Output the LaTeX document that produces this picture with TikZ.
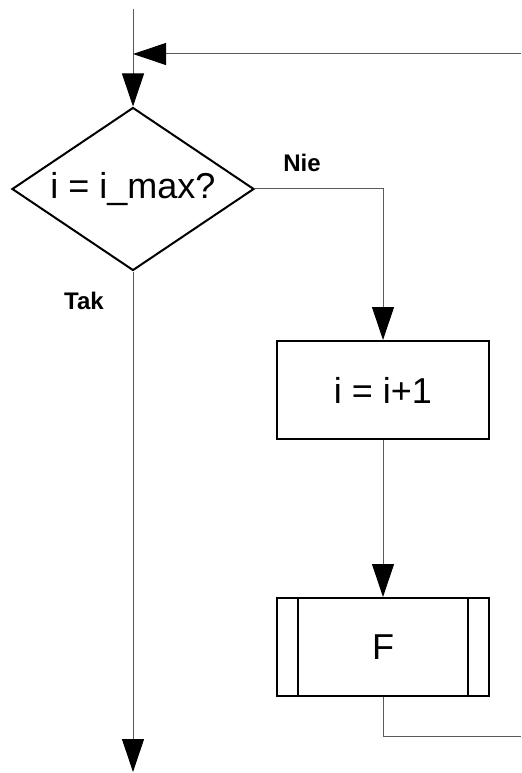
\documentclass[tikz,border=0pt]{standalone}
\usepackage{fontspec}
\setmainfont{Liberation Sans}
\usepackage{tikz}
\usetikzlibrary{arrows.meta,calc,positioning,shapes.geometric}
\tikzset{%
	decision/.style = {draw, line width=1.5pt, diamond, aspect=1.485, minimum width=181.5pt, minimum height=122.25pt, inner sep=0pt, text centered, font=\fontsize{27}{30}\selectfont},
	process/.style  = {draw, line width=1.5pt, rectangle, minimum width=159pt, minimum height=73.5pt, inner sep=0pt, text centered, font=\fontsize{27}{30}\selectfont},
	answer/.style   = {font=\fontsize{18}{20}\selectfont\bfseries, inner sep=0pt},
	line/.style     = {line width=0.75pt, draw=black!65},
	arrow/.style    = {line, -{Triangle[length=24.75pt,width=16.5pt,color=black]}},
}

\begin{document}
\begin{tikzpicture}[x=0.75pt,y=-0.75pt]
	\useasboundingbox (0,0) rectangle (521,773);

	\coordinate (start) at (133,9);   % flow in from above
	\coordinate (back) at (521,54);   % loop comes back here
	\coordinate (loop) at (521,736);  % loop leaves here
	\coordinate (exit) at (133,772);

	\node[decision] (test) at (133,189) {i = i\_max?};
	\node[process] (inc) at (383,390) {i = i+1};
	\node[process] (fun) at (383,647) {F};
	\draw[line width=1.5pt] ([xshift=16.5pt]fun.north west) -- ([xshift=16.5pt]fun.south west);
	\draw[line width=1.5pt] ([xshift=-16.5pt]fun.north east) -- ([xshift=-16.5pt]fun.south east);

	\node[answer] at (302,163) {Nie};
	\node[answer] at (84,301) {Tak};

	\draw[arrow] (start) -- (test.north);
	\draw[arrow] (back) -- (start |- back);
	\draw[arrow] (test.east) -| (inc.north);
	\draw[arrow] (inc.south) -- (fun.north);
	\draw[line] (fun.south) |- (loop);
	\draw[arrow] (test.south) -- (exit);
\end{tikzpicture}
\end{document}
